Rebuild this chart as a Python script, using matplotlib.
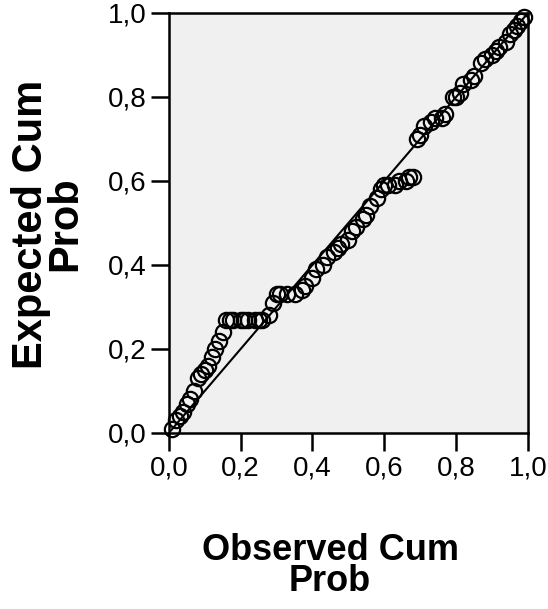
import matplotlib.pyplot as plt
from matplotlib.ticker import FuncFormatter

# Observed vs expected cumulative probability (P-P plot)
observed = [0.01, 0.02, 0.03, 0.04, 0.05, 0.06, 0.07, 0.08, 0.09, 0.10,
            0.11, 0.12, 0.13, 0.14, 0.15, 0.16, 0.17, 0.18, 0.20, 0.21,
            0.22, 0.24, 0.25, 0.26, 0.28, 0.29, 0.30, 0.31, 0.33, 0.35,
            0.37, 0.38, 0.40, 0.41, 0.43, 0.44, 0.46, 0.47, 0.48, 0.50,
            0.51, 0.52, 0.54, 0.55, 0.56, 0.58, 0.59, 0.60, 0.61, 0.63,
            0.64, 0.66, 0.67, 0.68, 0.69, 0.70, 0.71, 0.73, 0.74, 0.76,
            0.77, 0.79, 0.80, 0.81, 0.82, 0.84, 0.85, 0.87, 0.88, 0.90,
            0.91, 0.92, 0.94, 0.95, 0.96, 0.97, 0.98, 0.99]
expected = [0.01, 0.03, 0.04, 0.05, 0.07, 0.08, 0.10, 0.13, 0.14, 0.15,
            0.16, 0.18, 0.20, 0.22, 0.24, 0.27, 0.27, 0.27, 0.27, 0.27,
            0.27, 0.27, 0.27, 0.27, 0.28, 0.31, 0.33, 0.33, 0.33, 0.33,
            0.34, 0.35, 0.37, 0.39, 0.40, 0.42, 0.43, 0.44, 0.45, 0.46,
            0.48, 0.49, 0.51, 0.52, 0.54, 0.56, 0.58, 0.59, 0.59, 0.59,
            0.60, 0.60, 0.61, 0.61, 0.70, 0.71, 0.73, 0.74, 0.75, 0.75,
            0.76, 0.80, 0.80, 0.81, 0.83, 0.84, 0.85, 0.88, 0.89, 0.90,
            0.91, 0.92, 0.93, 0.95, 0.96, 0.97, 0.98, 0.99]
ticks = [0.0, 0.2, 0.4, 0.6, 0.8, 1.0]

plt.rcParams['font.family'] = ['Liberation Sans', 'DejaVu Sans']

fig = plt.figure(figsize=(5.48, 6.09), dpi=100)
ax = fig.add_axes([0.308, 0.289, 0.6555, 0.6897])
ax.set_facecolor('#f0f0f0')

# reference diagonal
ax.plot([0, 1], [0, 1], color='black', lw=1.5, zorder=2)
ax.plot(observed, expected, 'o', mfc='none', mec='black', mew=1.6,
        ms=11, zorder=3, clip_on=False)

ax.set_xlim(0, 1)
ax.set_ylim(0, 1)
ax.set_xticks(ticks)
ax.set_yticks(ticks)
fmt = FuncFormatter(lambda v, p: f"{v:.1f}".replace('.', ','))
ax.xaxis.set_major_formatter(fmt)
ax.yaxis.set_major_formatter(fmt)
ax.tick_params(direction='out', length=13, width=1.8, labelsize=20,
               color='black', pad=3)
for lab in ax.get_xticklabels() + ax.get_yticklabels():
    lab.set_family(['Liberation Sans Narrow', 'Liberation Sans'])
for s in ax.spines.values():
    s.set_linewidth(1.8)
    s.set_color('black')

fig.text(48 / 548, 1 - 224 / 609, "Expected Cum\nProb", rotation=90,
         ha='center', va='center', fontsize=30, fontweight='bold',
         linespacing=0.8)
fig.text(330 / 548, 1 - 566 / 609, "Observed Cum\nProb",
         ha='center', va='center', fontsize=26, fontweight='bold',
         linespacing=0.85)

fig.savefig('out.png', dpi=100)
